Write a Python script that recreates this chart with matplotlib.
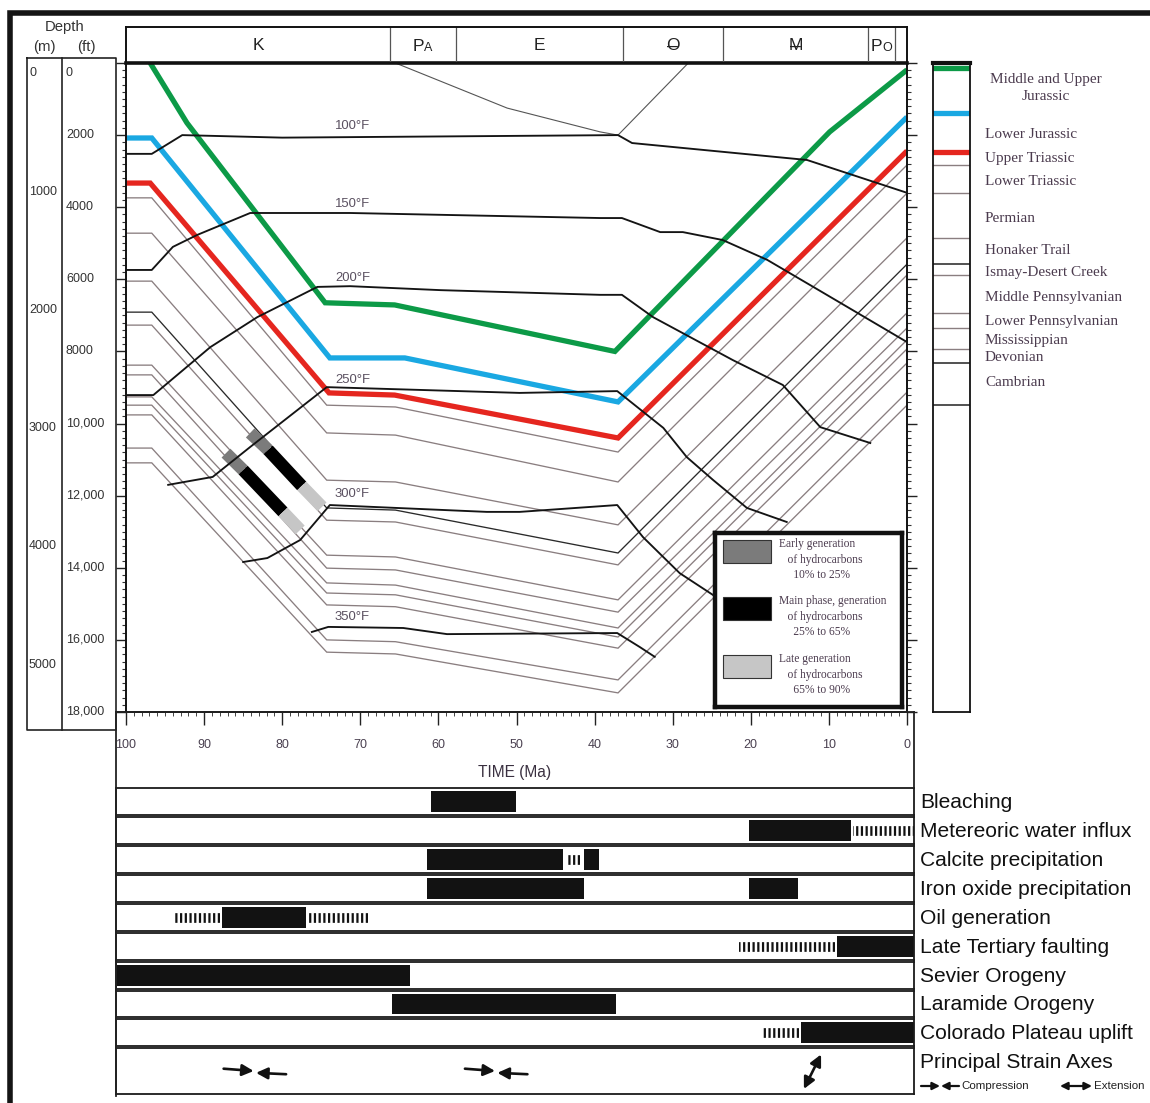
import numpy as np
import matplotlib
matplotlib.use("Agg")
import matplotlib.pyplot as plt
from matplotlib import font_manager as fm
from matplotlib.lines import Line2D
from matplotlib.patches import Rectangle, FancyArrowPatch
import matplotlib.transforms as mtransforms

W, H = 1150, 1103
plt.rcParams['lines.scale_dashes'] = False


def has_font(name):
    try:
        fm.findfont(fm.FontProperties(family=name), fallback_to_default=False)
        return True
    except Exception:
        return False


NARROW = 'Liberation Sans Narrow' if has_font('Liberation Sans Narrow') else 'Liberation Sans'
NS = 1.0 if NARROW == 'Liberation Sans Narrow' else 0.86
SANS = 'Liberation Sans'
SERIF = 'Liberation Serif'

# ------------------------------------------------------------------ data
TIME_TICKS = [100, 90, 80, 70, 60, 50, 40, 30, 20, 10, 0]
PERIOD_BOUNDS = [100, 66.2, 57.7, 36.4, 23.6, 5.0, 1.5, 0]
PERIOD_LABELS = [('K', ''), ('P', 'A'), ('E', ''), ('O', '-'), ('M', '-'), ('P', 'O'), ('', '')]

FT_LABELS = [0, 2000, 4000, 6000, 8000, 10000, 12000, 14000, 16000, 18000]
M_LABELS = [0, 1000, 2000, 3000, 4000, 5000]

# colored horizons (time Ma, depth ft)
GREEN_T = [96.9, 92.2, 74.5, 65.6, 37.4, 9.9, 0]
GREEN_D = [0, 1660, 6650, 6710, 8000, 1910, 190]
BLUE_T = [100, 96.7, 73.9, 64.3, 37.0, 0]
BLUE_D = [2080, 2080, 8180, 8180, 9400, 1500]
RED_T = [100, 96.9, 74.0, 65.6, 37.0, 0]
RED_D = [3330, 3330, 9150, 9210, 10400, 2440]

# gray formation tops: depth at HORIZON_T
HORIZON_T = [100, 96.7, 74.3, 65.5, 37.0, 0]
HORIZON_D = [
    [3740, 3740, 9490, 9540, 10790, 2830],
    [4720, 4720, 10260, 10320, 11620, 3610],
    [6050, 6050, 11570, 11620, 12810, 4850],
    [6910, 6910, 12340, 12400, 13590, 5580],
    [7270, 7270, 12680, 12730, 13920, 5880],
    [8380, 8380, 13650, 13700, 14890, 6930],
    [8650, 8650, 14010, 14060, 15230, 7350],
    [9260, 9260, 14420, 14480, 15670, 7680],
    [9490, 9490, 14700, 14750, 15920, 7930],
    [9760, 9760, 15030, 15080, 16230, 8320],
    [10680, 10680, 16000, 16050, 17110, 9130],
    [11090, 11090, 16340, 16390, 17470, 9490],
]
HORIZON_DARK = [False, False, False, True, False, False, False, False, False, False, False, False]

# isotherms
ISO_LABELS = ['100°F', '150°F', '200°F', '250°F', '300°F', '350°F']
ISO_LABEL_T = 71.0
ISO_LABEL_D = [1750, 3910, 5960, 8790, 11950, 15370]
ISO_T = [
    [100, 96.7, 92.8, 80.0, 37.0, 35.2, 12.8, 0],
    [100, 96.7, 94.0, 90.9, 84.1, 71.3, 39.3, 36.5, 31.6, 28.7, 23.6, 17.9, 12.0, 0],
    [100, 96.5, 89.2, 83.2, 75.5, 71.3, 59.7, 39.3, 36.5, 32.5, 22.3, 15.9, 11.1, 4.7],
    [94.6, 88.9, 84.1, 74.3, 49.6, 37.1, 31.2, 28.2, 24.8, 20.5, 15.4],
    [85.0, 81.9, 77.7, 73.9, 53.8, 49.6, 37.1, 33.8, 29.1, 24.8],
    [76.2, 74.1, 64.5, 58.9, 37.1, 34.2, 32.3],
]
ISO_D = [
    [2520, 2520, 2000, 2070, 2000, 2220, 2690, 3600],
    [5740, 5740, 5100, 4770, 4160, 4160, 4300, 4300, 4690, 4690, 4910, 5460, 6210, 7740],
    [9210, 9210, 7880, 7050, 6210, 6190, 6300, 6430, 6430, 7050, 8240, 8930, 10100, 10540],
    [11700, 11480, 10650, 8990, 9150, 9100, 10120, 10930, 11570, 12340, 12730],
    [13840, 13730, 13230, 12260, 12450, 12450, 12260, 13150, 14150, 14760],
    [15780, 15640, 15670, 15840, 15810, 16200, 16470],
]

# thin unconformity lines near the top
THIN_A_T = [65.5, 51.2, 39.3, 37.0]
THIN_A_D = [0, 1250, 1910, 2000]
THIN_B_T = [28.0, 37.0]
THIN_B_D = [0, 2000]

# hydrocarbon generation windows: (t0, d0, t1, d1) per phase
BAND_A = [(84.1, 10260, 81.8, 10730), (81.8, 10730, 77.5, 11730), (77.5, 11730, 74.9, 12310)]
BAND_B = [(87.2, 10820, 85.0, 11290), (85.0, 11290, 79.9, 12450), (79.9, 12450, 77.7, 12950)]
PHASE_COLORS = ['#7b7b7b', '#000000', '#c6c6c6']
LEGEND_TEXT = ["Early generation\n   of hydrocarbons\n     10% to 25%",
               "Main phase, generation\n   of hydrocarbons\n     25% to 65%",
               "Late generation\n   of hydrocarbons\n     65% to 90%"]

# formation column (present-day tops)
COLUMN_D = [150, 1390, 2470, 2830, 3610, 4850, 5580, 5880, 6930, 7350, 7930, 8320, 9490]
COLUMN_KIND = ['g', 'b', 'r', 'k1', 'k1', 'k1', 'k2', 'k1', 'k1', 'k1', 'k1', 'k2', 'k2']
FORMATIONS = ["Middle and Upper\nJurassic", "Lower Jurassic", "Upper Triassic", "Lower Triassic",
              "Permian", "Honaker Trail", "Ismay-Desert Creek", "Middle Pennsylvanian",
              "Lower Pennsylvanian", "Mississippian", "Devonian", "Cambrian"]
FORMATION_D = [690, 1970, 2640, 3300, 4300, 5210, 5800, 6490, 7180, 7710, 8180, 8850]

# event chart
EVENTS = ["Bleaching", "Metereoric water influx", "Calcite precipitation",
          "Iron oxide precipitation", "Oil generation", "Late Tertiary faulting",
          "Sevier Orogeny", "Laramide Orogeny", "Colorado Plateau uplift"]
EVENT_SOLID = [[(61.0, 50.0)], [(20.2, 7.2)], [(61.5, 44.0), (41.4, 39.4)],
               [(61.5, 41.4), (20.2, 14.0)], [(87.7, 77.0)], [(9.0, -1.0)],
               [(101.3, 63.6)], [(65.9, 37.2)], [(13.6, -1.0)]]
EVENT_DASHED = [[], [(6.9, -1.0)], [(43.4, 41.9)], [], [(94.0, 88.0), (76.8, 69.0)],
                [(21.5, 9.2)], [], [], [(18.5, 13.8)]]
COMPRESSION_MA = [83.5, 52.6]
EXTENSION_MA = [(13.2, 0.11, 11.0, 0.86)]

GREEN, BLUE, RED = '#0c9a47', '#1aa8e2', '#e5261f'
GRAY = '#8a7e80'
TXT = '#4a4050'
SERIF_TXT = '#4b3b4e'

# ------------------------------------------------------------------ helpers
fig = plt.figure(figsize=(W / 100, H / 100), dpi=100)
fig.patch.set_facecolor('white')


def px_axes(x0, y0, x1, y1):
    a = fig.add_axes([x0 / W, 1 - y1 / H, (x1 - x0) / W, (y1 - y0) / H])
    a.set_facecolor('none')
    return a


def fig_line(xs, ys, **kw):
    fig.add_artist(Line2D([x / W for x in xs], [1 - y / H for y in ys], **kw))


def fig_text(x, y, s, **kw):
    fig.text(x / W, 1 - y / H, s, **kw)


# frame border
fig_line([9.5, 9.5, 1150], [1103, 12.5, 12.5], lw=4.0, color='#151515',
         solid_joinstyle='miter', solid_capstyle='butt')

# ------------------------------------------------------------------ main axes
ax = px_axes(126, 63, 907, 712)
ax.set_xlim(100, 0)
ax.set_ylim(18000, 0)
for s in ax.spines.values():
    s.set_linewidth(1.4)
    s.set_color('#111')
ax.spines['top'].set_linewidth(2.6)
ax.set_yticks(np.arange(0, 18001, 2000))
ax.set_yticks(np.arange(0, 18001, 200), minor=True)
ax.set_xticks(TIME_TICKS)
ax.set_xticks(np.arange(0, 101, 1), minor=True)
ax.tick_params(axis='y', which='major', direction='out', length=7.5, width=1.0,
               left=True, right=True, labelleft=False, labelright=False, color='#222')
ax.tick_params(axis='y', which='minor', direction='out', length=3.0, width=0.8,
               left=True, right=True, color='#333')
ax.tick_params(axis='x', which='major', direction='out', length=9.5, width=1.0,
               bottom=True, top=False, labelbottom=False, color='#222')
ax.tick_params(axis='x', which='minor', direction='out', length=3.0, width=0.7,
               bottom=True, top=False, color='#444')

# formation tops
for row, dark in zip(HORIZON_D, HORIZON_DARK):
    ax.plot(HORIZON_T, row, color='#2a2a2a' if dark else GRAY, lw=0.95, zorder=1,
            solid_joinstyle='miter')

# thin lines near top
ax.plot(THIN_A_T, THIN_A_D, color='#555', lw=0.8, zorder=1)
ax.plot(THIN_B_T, THIN_B_D, color='#555', lw=0.8, zorder=1)

# colored horizons
for t, d, c in [(RED_T, RED_D, RED), (BLUE_T, BLUE_D, BLUE), (GREEN_T, GREEN_D, GREEN)]:
    ax.plot(t, d, color=c, lw=3.8, zorder=2, solid_joinstyle='miter', solid_capstyle='butt')

# hydrocarbon windows
for band in (BAND_A, BAND_B):
    for (t0, d0, t1, d1), c in zip(band, PHASE_COLORS):
        ax.plot([t0, t1], [d0, d1], color=c, lw=9.0, solid_capstyle='butt', zorder=2.5)

# isotherms
for t, d in zip(ISO_T, ISO_D):
    ax.plot(t, d, color='#141414', lw=1.35, zorder=3)
for lab, d in zip(ISO_LABELS, ISO_LABEL_D):
    ax.text(ISO_LABEL_T, d, lab, ha='center', va='center', fontsize=11 * NS,
            family=NARROW, color='#5a5060', zorder=4)

# time labels
tx = mtransforms.blended_transform_factory(ax.transData, fig.transFigure)
for t in TIME_TICKS:
    ax.text(t, 1 - 745 / H, str(t), transform=tx, ha='center', va='center',
            fontsize=10.5 * NS, family=NARROW, color=TXT, clip_on=False)
ax.text(50.3, 1 - 772 / H, 'TIME (Ma)', transform=tx, ha='center', va='center',
        fontsize=13 * NS, family=NARROW, color='#3a3040', clip_on=False)

# ------------------------------------------------------------------ header
hx = px_axes(126, 27, 907, 63)
hx.set_xlim(100, 0)
hx.set_ylim(0, 1)
hx.set_xticks([])
hx.set_yticks([])
for s in hx.spines.values():
    s.set_linewidth(1.4)
    s.set_color('#111')
for b in PERIOD_BOUNDS[1:-1]:
    hx.axvline(b, color='#555', lw=0.9)
for i, (main, sub) in enumerate(PERIOD_LABELS):
    mid = (PERIOD_BOUNDS[i] + PERIOD_BOUNDS[i + 1]) / 2
    if not main:
        continue
    if sub in ('A', 'O'):
        hx.annotate(main, xy=(mid, 0.32), xytext=(0.5, 0), textcoords='offset points',
                    ha='right', va='baseline', fontsize=12.5, family=SANS, color='#222')
        hx.annotate(sub, xy=(mid, 0.32), xytext=(0.5, 0), textcoords='offset points',
                    ha='left', va='baseline', fontsize=9, family=SANS, color='#222')
    else:
        hx.text(mid, 0.5, main, ha='center', va='center', fontsize=12.5, family=SANS,
                color='#222')
        if sub == '-':
            hx.text(mid, 0.47, '\u2013', ha='center', va='center', fontsize=14,
                    family=SANS, color='#222')

# ------------------------------------------------------------------ depth scale
fig_line([27, 116, 116, 27, 27], [57.5, 57.5, 730, 730, 57.5], lw=1.2, color='#222')
fig_line([62, 62], [57.5, 730], lw=1.2, color='#222')
fig_line([116, 126], [712, 712], lw=1.3, color='#222')
fig_text(65, 27, 'Depth', ha='center', va='center', fontsize=12.5 * NS, family=NARROW,
         color='#333')
fig_text(44, 47, '(m)', ha='center', va='center', fontsize=12.5 * NS, family=NARROW,
         color='#333')
fig_text(86, 47, '(ft)', ha='center', va='center', fontsize=12.5 * NS, family=NARROW,
         color='#333')
ty = mtransforms.blended_transform_factory(fig.transFigure, ax.transData)
for m in M_LABELS:
    ax.text(29 / W, m / 0.3048 + 120, str(m), transform=ty, ha='left', va='top',
            fontsize=10.5 * NS, family=NARROW, color='#333', clip_on=False)
for f in FT_LABELS:
    lab = f'{f:,}' if f >= 10000 else str(f)
    ax.text(66 / W, f + (120 if f == 0 else 0), lab, transform=ty, ha='left',
            va='top' if f == 0 else 'center', fontsize=10.5 * NS, family=NARROW,
            color='#333', clip_on=False)

# ------------------------------------------------------------------ formation column
cx = px_axes(933, 63, 970, 712)
cx.set_ylim(18000, 0)
cx.set_xlim(0, 1)
cx.set_xticks([])
cx.set_yticks([])
for s in cx.spines.values():
    s.set_linewidth(1.3)
    s.set_color('#111')
cx.spines['top'].set_linewidth(3)
for d, k in zip(COLUMN_D, COLUMN_KIND):
    if k in ('g', 'b', 'r'):
        cx.axhline(d, color={'g': GREEN, 'b': BLUE, 'r': RED}[k], lw=3.8)
    elif k == 'k2':
        cx.axhline(d, color='#222', lw=1.1)
    else:
        cx.axhline(d, color=GRAY, lw=1.0)
for name, d in zip(FORMATIONS, FORMATION_D):
    if '\n' in name:
        cx.text(1046 / W, d, name, transform=ty, ha='center', va='center',
                multialignment='center', fontsize=11, family=SERIF, color=SERIF_TXT,
                linespacing=1.4, clip_on=False)
    else:
        cx.text(985 / W, d, name, transform=ty, ha='left', va='center', fontsize=11,
                family=SERIF, color=SERIF_TXT, clip_on=False)

# ------------------------------------------------------------------ legend box
lx = px_axes(715, 533, 902, 707)
lx.set_facecolor('white')
lx.set_zorder(5)
lx.set_xlim(0, 1)
lx.set_ylim(0, 1)
lx.set_xticks([])
lx.set_yticks([])
for s in lx.spines.values():
    s.set_linewidth(3.2)
    s.set_color('#111')
sw_top = [540, 597, 655]
for top, c, txt in zip(sw_top, PHASE_COLORS, LEGEND_TEXT):
    y0 = (707 - (top + 23)) / 174
    lx.add_patch(Rectangle(((723 - 715) / 187, y0), 48 / 187, 23 / 174,
                           facecolor=c, edgecolor='#333', lw=0.8))
    lx.text((779 - 715) / 187, (707 - top + 2) / 174, txt, ha='left', va='top',
            fontsize=8.3, family=SERIF, color=SERIF_TXT, linespacing=1.4)

# ------------------------------------------------------------------ event chart
fig_line([116, 116], [712, 1096], lw=1.3, color='#222')
fig_line([914, 914], [712, 787], lw=1.3, color='#222')
fig_line([116, 914], [712, 712], lw=1.3, color='#222')
ROW_EDGES = [787, 816, 845, 874, 903, 932, 961, 990, 1018, 1047, 1095]
XL = (101.28, -0.9)
ARW = dict(lw=1.9, color='#111', mutation_scale=17, shrinkA=0, shrinkB=0)
LABEL_FS = 17.6 * NS
for i in range(len(ROW_EDGES) - 1):
    rx = px_axes(116, ROW_EDGES[i] + 1, 914, ROW_EDGES[i + 1] - 1)
    rx.set_xlim(*XL)
    rx.set_ylim(0, 1)
    rx.set_xticks([])
    rx.set_yticks([])
    for s in rx.spines.values():
        s.set_linewidth(1.3)
        s.set_color('#1a1a1a')
    yc = (ROW_EDGES[i] + ROW_EDGES[i + 1]) / 2
    if i < len(EVENTS):
        for a, b in EVENT_SOLID[i]:
            rx.barh(0.5, a - b, left=b, height=0.76, color='#121212')
        for a, b in EVENT_DASHED[i]:
            rx.hlines(0.5, b, a, lw=7.0, color='#121212', linestyles=(0, (1.6, 1.8)))
        fig_text(920, yc + 1, EVENTS[i], ha='left', va='center', fontsize=LABEL_FS,
                 family=NARROW, color='#111')
    else:
        fig_text(920, 1063, 'Principal Strain Axes', ha='left', va='center',
                 fontsize=LABEL_FS, family=NARROW, color='#111')
        for t in COMPRESSION_MA:
            rx.annotate('', xy=(t + 0.15, 0.50), xytext=(t + 4.0, 0.55),
                        arrowprops=dict(arrowstyle='-|>', **ARW))
            rx.annotate('', xy=(t - 0.15, 0.46), xytext=(t - 4.0, 0.43),
                        arrowprops=dict(arrowstyle='-|>', **ARW))
        for t0, y0, t1, y1 in EXTENSION_MA:
            rx.annotate('', xy=(t1, y1), xytext=(t0, y0),
                        arrowprops=dict(arrowstyle='<|-|>', **ARW))


# strain legend
def fig_arrow(x0, y0, x1, y1, style):
    fig.add_artist(FancyArrowPatch((x0 / W, 1 - y0 / H), (x1 / W, 1 - y1 / H),
                                   transform=fig.transFigure, arrowstyle=style,
                                   mutation_scale=11, lw=1.6, color='#111',
                                   shrinkA=0, shrinkB=0))


fig_arrow(921, 1086, 940, 1086, '-|>')
fig_arrow(959, 1086, 941, 1086, '-|>')
fig_text(961, 1086, 'Compression', ha='left', va='center', fontsize=9.6 * NS,
         family=NARROW, color='#222')
fig_arrow(1060, 1086, 1092, 1086, '<|-|>')
fig_text(1094, 1086, 'Extension', ha='left', va='center', fontsize=9.6 * NS,
         family=NARROW, color='#222')

fig.savefig('out.png', dpi=100, facecolor='white')
